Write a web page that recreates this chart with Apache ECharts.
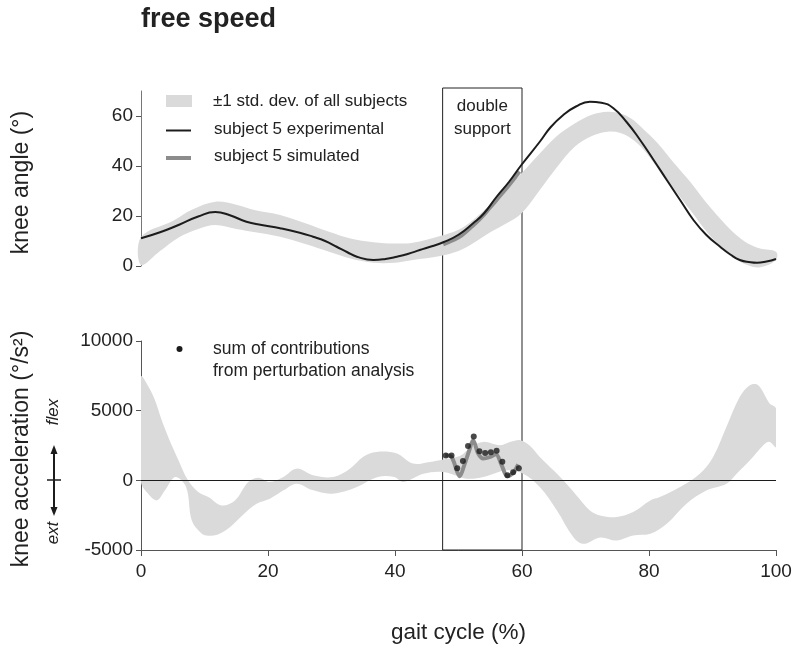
<!DOCTYPE html>
<html>
<head>
<meta charset="utf-8">
<script src="https://cdn.jsdelivr.net/npm/echarts@6.0.0/dist/echarts.min.js"></script>
<style>html,body{margin:0;padding:0;background:#fff}#c{width:800px;height:651px}</style>
</head>
<body>
<div id="c"></div>
<script>
// ---------- data ----------
const xTicks = [0, 20, 40, 60, 80, 100];
const angleTicks = [0, 20, 40, 60];
const accelTicks = [-5000, 0, 5000, 10000];
const doubleSupport = [47.5, 60];

const angleExperimental = [[0,11.1],[3,13.5],[6,16.5],[9,19.8],[11.7,21.6],[14,20.3],[16.6,17.7],[19,16.4],[21.9,15.1],[25,13.3],[27.1,11.7],[29,10.0],[30.8,7.7],[32.5,5.5],[34,3.7],[36.6,2.4],[38.5,2.8],[40.3,3.7],[42,4.8],[43.9,6.4],[45.8,7.9],[47.6,9.5],[50,12.5],[52.3,17.1],[54,21],[56,27.7],[58,33.8],[59.9,40.4],[62.8,49.7],[64.5,55.5],[66.5,60.4],[68.5,63.8],[70.7,65.7],[72.5,65.3],[74.4,63.1],[76.5,57.5],[78.6,50.4],[80.7,42.5],[82.8,34.4],[85,26],[87,18.4],[89,12.5],[91.2,7.7],[92.8,4.6],[94.3,2.4],[96,1.5],[97,1.3],[98.5,1.8],[100,2.8]];

const angleSimulated = [[47.6,8.7],[49,10.2],[50.5,12.3],[52,15.6],[53.5,19.2],[55,23.5],[56.5,28],[58,32.5],[59.6,37.8]];

const angleBandUpper = [[0,11.5],[5,18],[8,22.5],[11.7,25.7],[15,24.5],[18,22.3],[21.9,20.4],[26,17],[29.6,13.7],[33,11],[36.6,9.5],[40,9],[42.8,9.3],[47.1,12],[50,14.5],[52.3,18.4],[56,27],[59.9,37],[62.8,45],[65.5,52],[68.3,57],[71,60.5],[73.5,61.7],[75.5,61],[77.2,59],[79,55],[81.4,49],[84,41],[86.7,33],[89.3,24.5],[91.9,17],[93.7,12.5],[95.5,9.1],[97.5,7],[100,5.7]];

const angleBandLower = [[0,0.4],[3,6],[6,11.5],[9,14.8],[11.7,16.4],[15,14.8],[18,13.5],[21.9,11.7],[26,8.7],[29.6,5.7],[33,3],[36.6,1.3],[40,1.3],[42.8,2.4],[47.1,4],[50,6],[52.3,9.1],[55,13.5],[57.5,17],[59.9,21],[62.8,30.4],[65.5,39.5],[68.3,47.7],[71,52],[73.5,53.7],[75.5,53.2],[77.2,51],[79,47],[81.4,39],[84,30.5],[86.7,21.7],[89.3,13],[91.9,6.4],[93.5,3],[95.5,0.4],[97.5,-0.5],[100,2.4]];

const accelBandUpper = [[0,7430],[1.2,6700],[2.2,5750],[3.2,4400],[4.3,3100],[5.9,1440],[7.4,0],[9,-840],[10.6,-1200],[12.7,-1800],[14.8,-1440],[16.9,-120],[18.5,190],[20.3,-120],[22.4,240],[24.5,840],[27.1,360],[30.3,240],[32.9,840],[35,1700],[37.1,2040],[40.3,1920],[42.8,1200],[45.5,1320],[47.6,1500],[50.2,1750],[52,2400],[53.9,2760],[56.5,2520],[58.5,2800],[59.7,2880],[61.2,2500],[62.8,1680],[65,700],[67,-240],[69,-1300],[70.7,-2160],[72.3,-2520],[74.9,-2640],[77.5,-2280],[80.2,-1440],[81.7,-1200],[84.9,-480],[88,480],[90.1,1680],[92.2,3840],[94.3,6000],[95.9,6830],[97.2,6830],[99,5520],[100,5160]];

const accelBandLower = [[0,-100],[1,-900],[2.5,-1440],[3.8,-700],[5.4,240],[7.1,-480],[8,-2880],[9.5,-3800],[10.3,-3960],[12,-3900],[14,-3360],[16,-2500],[18.2,-1680],[20.3,-1320],[22.5,-700],[24.5,-240],[27,-700],[29.8,-960],[32,-800],[34,-480],[37.3,240],[39.9,240],[41.3,-120],[44.5,480],[47.6,600],[51.3,120],[53.9,240],[57.6,720],[60.2,480],[62.8,-480],[65.5,-2160],[68.1,-4080],[69.7,-4560],[72.3,-4100],[74.9,-4320],[77.5,-3960],[80.2,-3840],[82.8,-3120],[85.9,-1680],[89.1,-720],[92.2,-240],[93.8,480],[95.9,1440],[98,2520],[99,2760],[100,2400]];

const accelSimulated = [[47.9,1800],[48.9,1680],[49.8,600],[50.2,290],[50.9,1080],[51.7,2160],[52.3,2880],[53.1,1920],[53.9,1560],[55.0,1680],[55.9,1870],[56.8,1080],[57.7,290],[58.6,525],[59.4,1150]];

const perturbationSum = [[48.0,1775],[48.9,1775],[49.8,863],[50.7,1390],[51.5,2470],[52.4,3140],[53.3,2090],[54.2,1970],[55.1,2010],[56.0,2130],[56.9,1340],[57.7,360],[58.6,575],[59.5,863]];

// ---------- styling ----------
const FONT = "'Liberation Sans', Arial, Helvetica, sans-serif";
const BAND = '#dadada';
const BLACK = '#1c1c1c';
const GREY = '#8c8c8c';
const TXT = '#222';

function bandRender(upper, lower) {
  return function (params, api) {
    const pts = upper.map(p => api.coord(p))
      .concat(lower.slice().reverse().map(p => api.coord(p)));
    return { type: 'polygon', silent: true,
      shape: { points: pts, smooth: 0.35 },
      style: { fill: BAND } };
  };
}
const plain = v => String(v);

const chart = echarts.init(document.getElementById('c'), null, { renderer: 'canvas' });

const axisLineStyle = { color: '#555', width: 1 };

chart.setOption({
  animation: false,
  backgroundColor: '#fff',
  textStyle: { fontFamily: FONT },
  title: {
    text: 'free speed', left: 141, top: 6, padding: 0,
    textStyle: { fontSize: 27, fontWeight: 'bold', color: TXT, fontFamily: FONT }
  },
  grid: [
    { left: 141, right: 24, top: 91, height: 175 },
    { left: 141, right: 24, top: 341, height: 209 },
    { left: 141, right: 24, top: 88, height: 462 }
  ],
  xAxis: [
    { gridIndex: 0, type: 'value', min: 0, max: 100, show: false },
    { gridIndex: 1, type: 'value', min: 0, max: 100, interval: 20,
      axisLine: { show: true, onZero: false, lineStyle: axisLineStyle },
      axisTick: { show: true, length: 6, customValues: xTicks, lineStyle: axisLineStyle },
      axisLabel: { fontSize: 19, color: TXT, margin: 12, customValues: xTicks, formatter: plain, fontFamily: FONT },
      splitLine: { show: false },
      name: 'gait cycle (%)', nameLocation: 'middle', nameGap: 71,
      nameTextStyle: { fontSize: 22.5, color: TXT, fontFamily: FONT } },
    { gridIndex: 2, type: 'value', min: 0, max: 100, show: false }
  ],
  yAxis: [
    { gridIndex: 0, type: 'value', min: 0, max: 70,
      axisLine: { show: true, onZero: false, lineStyle: { color: '#777', width: 1 } },
      axisTick: { show: true, length: 5, customValues: angleTicks, lineStyle: axisLineStyle },
      axisLabel: { fontSize: 19, color: TXT, margin: 8, customValues: angleTicks, formatter: plain, fontFamily: FONT },
      splitLine: { show: false },
      name: 'knee angle (°)', nameLocation: 'middle', nameGap: 108,
      nameTextStyle: { fontSize: 23, color: TXT, fontFamily: FONT, padding: [0, 8, 0, 0] } },
    { gridIndex: 1, type: 'value', min: -5000, max: 10000, interval: 5000,
      axisLine: { show: true, onZero: false, lineStyle: axisLineStyle },
      axisTick: { show: true, length: 5, customValues: accelTicks, lineStyle: axisLineStyle },
      axisLabel: { fontSize: 19, color: TXT, margin: 8, customValues: accelTicks, formatter: plain, fontFamily: FONT },
      splitLine: { show: false },
      name: 'knee acceleration (°/s²)', nameLocation: 'middle', nameGap: 108,
      nameTextStyle: { fontSize: 23, color: TXT, fontFamily: FONT, padding: [0, 7, 0, 0] } },
    { gridIndex: 2, type: 'value', min: 0, max: 1, show: false }
  ],
  series: [
    { name: '±1 std. dev. of all subjects', type: 'custom', xAxisIndex: 0, yAxisIndex: 0,
      renderItem: bandRender(angleBandUpper, angleBandLower), data: [[0, 0]], z: 1 },
    { name: 'subject 5 simulated', type: 'line', xAxisIndex: 0, yAxisIndex: 0,
      data: angleSimulated, smooth: 0.5, showSymbol: false,
      lineStyle: { color: GREY, width: 4 }, z: 2 },
    { name: 'subject 5 experimental', type: 'line', xAxisIndex: 0, yAxisIndex: 0,
      data: angleExperimental, smooth: 0.5, showSymbol: false,
      lineStyle: { color: BLACK, width: 2 }, z: 3 },

    { name: 'accel band', type: 'custom', xAxisIndex: 1, yAxisIndex: 1, clip: true,
      renderItem: bandRender(accelBandUpper, accelBandLower), data: [[0, 0]], z: 1,
      markLine: { silent: true, symbol: ['none', 'none'], label: { show: false },
        lineStyle: { color: BLACK, width: 1.2, type: 'solid' },
        data: [{ yAxis: 0 }] } },
    { name: 'accel simulated', type: 'line', xAxisIndex: 1, yAxisIndex: 1,
      data: accelSimulated, smooth: 0.3, showSymbol: false,
      lineStyle: { color: GREY, width: 4 }, z: 3 },
    { name: 'sum of contributions', type: 'scatter', xAxisIndex: 1, yAxisIndex: 1,
      data: perturbationSum, symbolSize: 6, itemStyle: { color: BLACK }, z: 4 },

    { name: 'double support', type: 'line', xAxisIndex: 2, yAxisIndex: 2, data: [],
      markArea: { silent: true,
        itemStyle: { color: 'rgba(0,0,0,0)', borderColor: '#222', borderWidth: 1 },
        label: { show: true, position: 'insideTop', distance: 7, formatter: 'double\nsupport',
          fontSize: 17, lineHeight: 23, color: TXT, fontFamily: FONT },
        data: [[{ xAxis: doubleSupport[0], yAxis: 0 }, { xAxis: doubleSupport[1], yAxis: 1 }]] } }
  ],
  graphic: [
    // top legend
    { type: 'rect', shape: { x: 166, y: 95, width: 26, height: 12 }, style: { fill: BAND } },
    { type: 'text', x: 213, y: 101, style: { text: '±1 std. dev. of all subjects', fontSize: 17, fontFamily: FONT, fill: TXT, verticalAlign: 'middle' } },
    { type: 'line', shape: { x1: 166, y1: 130.5, x2: 191, y2: 130.5 }, style: { stroke: BLACK, lineWidth: 2 } },
    { type: 'text', x: 214, y: 129.5, style: { text: 'subject 5 experimental', fontSize: 17, fontFamily: FONT, fill: TXT, verticalAlign: 'middle' } },
    { type: 'line', shape: { x1: 166, y1: 158, x2: 191, y2: 158 }, style: { stroke: GREY, lineWidth: 4 } },
    { type: 'text', x: 214, y: 156.5, style: { text: 'subject 5 simulated', fontSize: 17, fontFamily: FONT, fill: TXT, verticalAlign: 'middle' } },
    // bottom legend
    { type: 'circle', shape: { cx: 179.5, cy: 349, r: 3 }, style: { fill: BLACK } },
    { type: 'text', x: 213, y: 349, style: { text: 'sum of contributions', fontSize: 17.5, fontFamily: FONT, fill: TXT, verticalAlign: 'middle' } },
    { type: 'text', x: 213, y: 371, style: { text: 'from perturbation analysis', fontSize: 17.5, fontFamily: FONT, fill: TXT, verticalAlign: 'middle' } },
    // flex / ext indicator
    { type: 'text', x: 53, y: 412, rotation: Math.PI / 2, style: { text: 'flex', fontSize: 17, fontStyle: 'italic', fontFamily: FONT, fill: TXT, align: 'center', verticalAlign: 'middle' } },
    { type: 'text', x: 53, y: 533, rotation: Math.PI / 2, style: { text: 'ext', fontSize: 17, fontStyle: 'italic', fontFamily: FONT, fill: TXT, align: 'center', verticalAlign: 'middle' } },
    { type: 'line', shape: { x1: 54, y1: 452, x2: 54, y2: 509 }, style: { stroke: BLACK, lineWidth: 2 } },
    { type: 'polygon', shape: { points: [[54, 445], [50.5, 454], [57.5, 454]] }, style: { fill: BLACK } },
    { type: 'polygon', shape: { points: [[54, 516], [50.5, 507], [57.5, 507]] }, style: { fill: BLACK } },
    { type: 'line', shape: { x1: 47, y1: 480, x2: 61, y2: 480 }, style: { stroke: BLACK, lineWidth: 1.5 } }
  ]
});
</script>
</body>
</html>
